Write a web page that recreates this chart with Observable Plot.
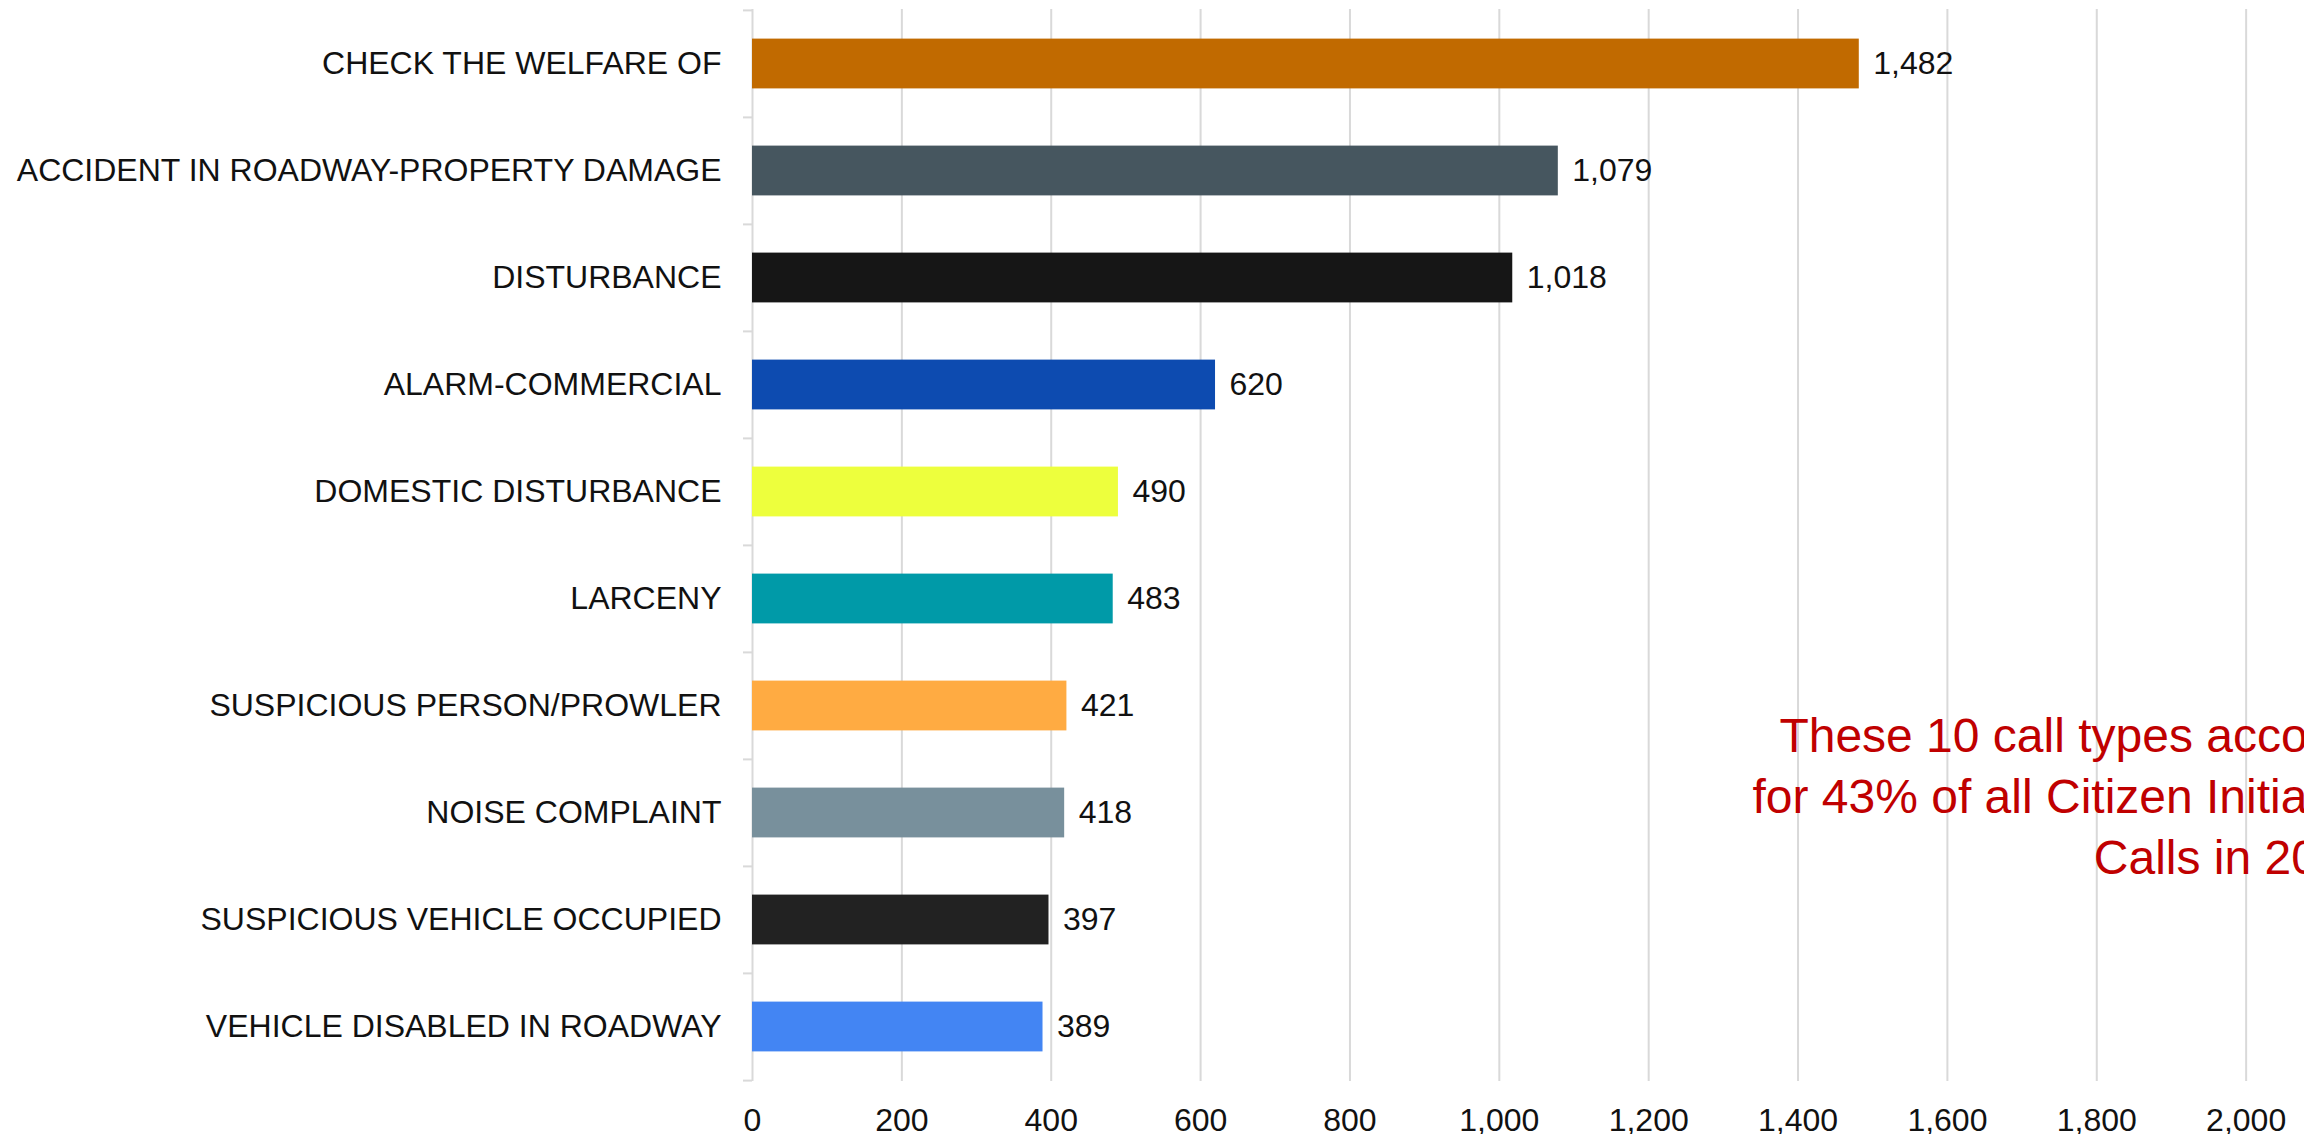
<!DOCTYPE html>
<html>
<head>
<meta charset="utf-8">
<script src="https://cdn.jsdelivr.net/npm/d3@7"></script>
<script src="https://cdn.jsdelivr.net/npm/@observablehq/plot@0.6"></script>
<style>
  html, body { margin: 0; padding: 0; background: #fff; overflow: hidden; }
  #chart svg { max-width: none !important; overflow: visible; }
</style>
</head>
<body>
<div id="chart"></div>
<script>
const categories = [
  "CHECK THE WELFARE OF",
  "ACCIDENT IN ROADWAY-PROPERTY DAMAGE",
  "DISTURBANCE",
  "ALARM-COMMERCIAL",
  "DOMESTIC DISTURBANCE",
  "LARCENY",
  "SUSPICIOUS PERSON/PROWLER",
  "NOISE COMPLAINT",
  "SUSPICIOUS VEHICLE OCCUPIED",
  "VEHICLE DISABLED IN ROADWAY"
];
const values = [1482, 1079, 1018, 620, 490, 483, 421, 418, 397, 389];
const colors = ["#C16A00", "#46565F", "#161616", "#0D4BB0", "#EDFF3D", "#009AA8", "#FFAB42", "#78909C", "#222222", "#4385F3"];
const xTicks = [0, 200, 400, 600, 800, 1000, 1200, 1400, 1600, 1800, 2000];
const noteLines = ["These 10 call types account", "for 43% of all Citizen Initiated", "Calls in 2019"];

const rows = categories.map((c, i) => ({category: c, value: values[i]}));

const W = 2395, H = 1134, mL = 752, mT = 9, mB = 53, mR = 0;
const step = (H - mT - mB) / categories.length;
const barH = 50;
const inset = (step - barH) / 2;
const xMax = 2200;
const pxPerUnit = (W - mL - mR) / xMax;
const tickLen = 9 / pxPerUnit;
const fmt = d3.format(",");

const noteX = [1375, 1339, 1796];

const chart = Plot.plot({
  width: W,
  height: H,
  marginLeft: mL,
  marginRight: mR,
  marginTop: mT,
  marginBottom: mB,
  style: {
    fontSize: "32px",
    fontFamily: "'Liberation Sans', Arial, sans-serif",
    color: "#111",
    background: "#fff",
    maxWidth: "none",
    overflow: "visible"
  },
  x: {domain: [0, xMax], ticks: xTicks, tickFormat: fmt, tickSize: 0, tickPadding: 27, label: null},
  y: {domain: categories, label: null, tickSize: 0, tickPadding: 31, padding: 0},
  color: {domain: categories, range: colors},
  marks: [
    Plot.ruleX(xTicks, {x: d => d, stroke: "#d9d9d9", strokeWidth: 2}),
    Plot.ruleY(categories, {y: d => d, x1: 0, x2: -tickLen, dy: -step / 2, stroke: "#d9d9d9", strokeWidth: 2}),
    Plot.ruleY(categories.slice(-1), {y: d => d, x1: 0, x2: -tickLen, dy: step / 2, stroke: "#d9d9d9", strokeWidth: 2}),
    Plot.barX(rows, {x: "value", y: "category", fill: "category", insetTop: inset, insetBottom: inset}),
    Plot.text(rows, {x: "value", y: "category", text: d => fmt(d.value), textAnchor: "start", dx: 14, fill: "#111"}),
    ...noteLines.map((line, i) => Plot.text([line], {
      x: () => noteX[i],
      y: () => categories[7],
      text: d => d,
      textAnchor: "start",
      lineAnchor: "bottom",
      dy: (i - 1) * 61,
      fontSize: 48,
      fill: "#C00000"
    }))
  ]
});
document.getElementById("chart").appendChild(chart);
</script>
</body>
</html>
